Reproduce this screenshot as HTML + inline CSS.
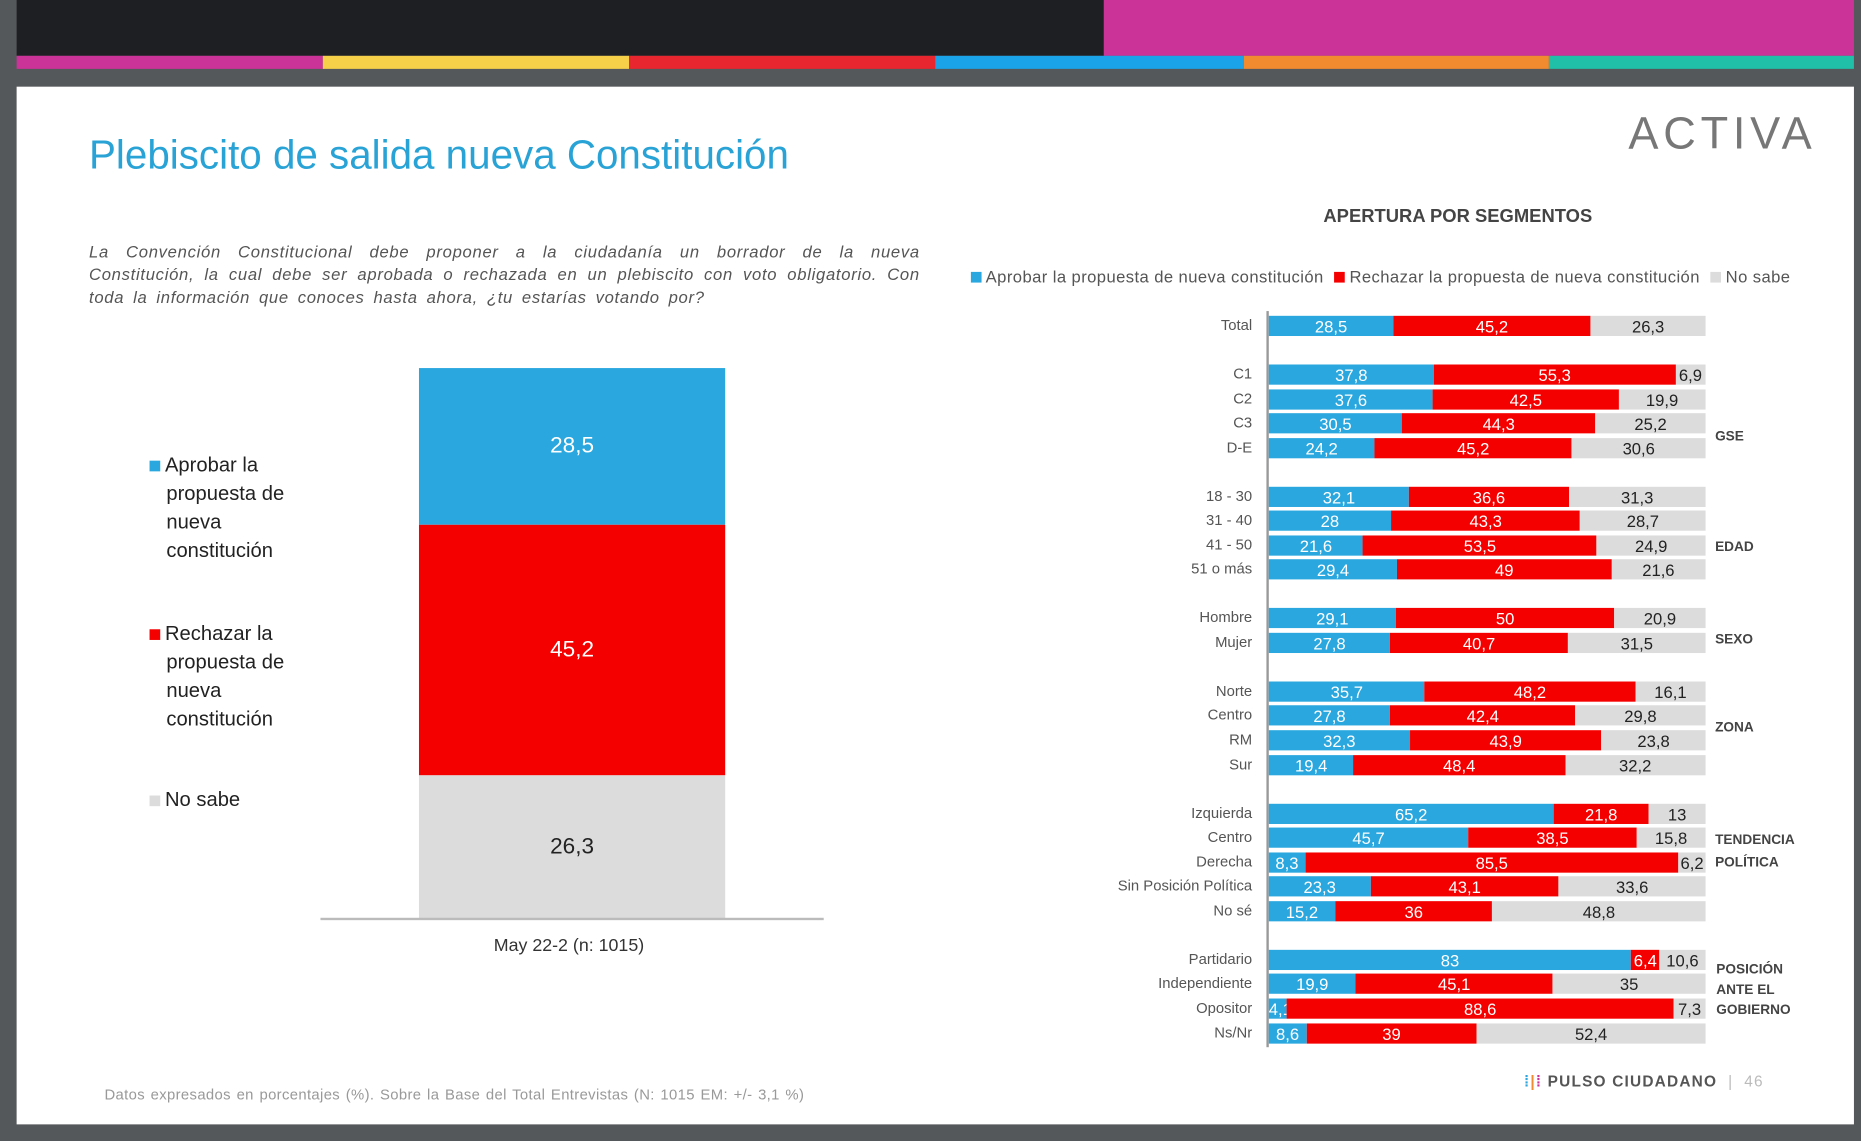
<!DOCTYPE html>
<html><head><meta charset="utf-8"><style>
html,body{margin:0;padding:0;width:1861px;height:1141px;overflow:hidden;background:#55585b}
#s{position:absolute;left:0;top:0;width:1568px;height:961px;transform:scale(1.1869,1.1873);transform-origin:0 0;font-family:"Liberation Sans",sans-serif}
.a{position:absolute}
.lbl{position:absolute;font-size:12.5px;color:#555;text-align:right;width:200px}
.bar{position:absolute;height:17px;font-size:14px;line-height:18px;text-align:center}
</style></head><body><div id="s">
<div class="a" style="left:0;top:0;width:1568px;height:961px;background:#55585b"></div>
<div class="a" style="left:14px;top:0;width:916px;height:47px;background:#1e1f22"></div>
<div class="a" style="left:930px;top:0;width:632px;height:47px;background:#cc3399"></div>
<div class="a" style="left:14px;top:47px;width:258px;height:11px;background:#cc3399"></div>
<div class="a" style="left:272px;top:47px;width:258px;height:11px;background:#f7d04a"></div>
<div class="a" style="left:530px;top:47px;width:258px;height:11px;background:#e8262f"></div>
<div class="a" style="left:788px;top:47px;width:260px;height:11px;background:#1aa3e8"></div>
<div class="a" style="left:1048px;top:47px;width:257px;height:11px;background:#f28a30"></div>
<div class="a" style="left:1305px;top:47px;width:257px;height:11px;background:#1fbfa8"></div>
<div class="a" style="left:14px;top:73px;width:1548px;height:874px;background:#fff"></div>
<div class="a" style="left:75px;top:112px;font-size:34px;color:#29a3d6">Plebiscito de salida nueva Constitución</div>
<div class="a" style="left:1372px;top:92px;font-size:38px;color:#777;letter-spacing:4px">ACTIVA</div>
<div class="a" style="left:75px;top:203px;width:700px;font-size:14px;font-style:italic;color:#555;text-align:justify;line-height:19px;letter-spacing:0.6px;word-spacing:3px">La Convención Constitucional debe proponer a la ciudadanía un borrador de la nueva Constitución, la cual debe ser aprobada o rechazada en un plebiscito con voto obligatorio. Con toda la información que conoces hasta ahora, ¿tu estarías votando por?</div>
<div class="a" style="left:353px;top:310px;width:258px;height:132px;background:#2aa7de;color:#fff;font-size:19px;text-align:center;line-height:132px">28,5</div>
<div class="a" style="left:353px;top:442px;width:258px;height:211px;background:#f50000;color:#fff;font-size:19px;text-align:center;line-height:211px">45,2</div>
<div class="a" style="left:353px;top:653px;width:258px;height:121px;background:#dcdcdc;color:#222;font-size:19px;text-align:center;line-height:121px">26,3</div>
<div class="a" style="left:270px;top:773px;width:424px;height:2px;background:#bbb"></div>
<div class="a" style="left:416px;top:788px;font-size:15px;color:#333">May 22-2 (n: 1015)</div>
<div class="a" style="left:126px;top:380px;font-size:17px;color:#222;line-height:24px"><span style="display:inline-block;width:9px;height:9px;background:#2aa7de;margin-right:4px"></span>Aprobar la<br>&nbsp;&nbsp;&nbsp;propuesta de<br>&nbsp;&nbsp;&nbsp;nueva<br>&nbsp;&nbsp;&nbsp;constitución</div>
<div class="a" style="left:126px;top:522px;font-size:17px;color:#222;line-height:24px"><span style="display:inline-block;width:9px;height:9px;background:#f50000;margin-right:4px"></span>Rechazar la<br>&nbsp;&nbsp;&nbsp;propuesta de<br>&nbsp;&nbsp;&nbsp;nueva<br>&nbsp;&nbsp;&nbsp;constitución</div>
<div class="a" style="left:126px;top:664px;font-size:17px;color:#222"><span style="display:inline-block;width:9px;height:9px;background:#dcdcdc;margin-right:4px"></span>No sabe</div>
<div class="a" style="left:88px;top:915px;font-size:12.5px;color:#999;letter-spacing:0.3px;word-spacing:1px">Datos expresados en porcentajes (%). Sobre la Base del Total Entrevistas (N: 1015  EM: +/- 3,1 %)</div>
<div class="a" style="left:1115px;top:174px;font-size:15.5px;font-weight:bold;color:#444">APERTURA POR SEGMENTOS</div>
<div class="a" style="left:818px;top:225px;font-size:14px;color:#555;white-space:nowrap;letter-spacing:0.35px"><span style="display:inline-block;width:9px;height:9px;background:#2aa7de"></span> Aprobar la propuesta de nueva constitución &nbsp;<span style="display:inline-block;width:9px;height:9px;background:#f50000"></span> Rechazar la propuesta de nueva constitución &nbsp;<span style="display:inline-block;width:9px;height:9px;background:#dcdcdc"></span> No sabe</div>
<div class="a" style="left:1067px;top:262px;width:2px;height:620px;background:#999"></div>
<div id="rows"></div>
<div class="a" style="left:1445px;top:362px;font-size:11.5px;font-weight:bold;color:#444">GSE</div>
<div class="a" style="left:1445px;top:455px;font-size:11.5px;font-weight:bold;color:#444">EDAD</div>
<div class="a" style="left:1445px;top:533px;font-size:11.5px;font-weight:bold;color:#444">SEXO</div>
<div class="a" style="left:1445px;top:607px;font-size:11.5px;font-weight:bold;color:#444">ZONA</div>
<div class="a" style="left:1445px;top:699px;font-size:11.5px;font-weight:bold;color:#444;line-height:19px">TENDENCIA<br>POLÍTICA</div>
<div class="a" style="left:1446px;top:809px;font-size:11.5px;font-weight:bold;color:#444;line-height:17px">POSICIÓN<br>ANTE EL<br>GOBIERNO</div>
<div class="a" style="left:1284px;top:903px;font-size:13px;font-weight:bold;color:#555;letter-spacing:1px"><span style="color:#2aa7de">⁞</span><span style="color:#f28a30">|</span><span style="color:#cc3399">⁞</span> PULSO CIUDADANO <span style="color:#bbb;font-weight:normal">&nbsp;| &nbsp;46</span></div>
</div>
<script>
var d=[["Total",28.5,45.2,26.3,274],["C1",37.8,55.3,6.9,315],["C2",37.6,42.5,19.9,336],["C3",30.5,44.3,25.2,356],["D-E",24.2,45.2,30.6,377],
["18 - 30",32.1,36.6,31.3,418],["31 - 40",28,43.3,28.7,438],["41 - 50",21.6,53.5,24.9,459],["51 o más",29.4,49,21.6,479],
["Hombre",29.1,50,20.9,520],["Mujer",27.8,40.7,31.5,541],["Norte",35.7,48.2,16.1,582],["Centro",27.8,42.4,29.8,602],["RM",32.3,43.9,23.8,623],["Sur",19.4,48.4,32.2,644],
["Izquierda",65.2,21.8,13,685],["Centro",45.7,38.5,15.8,705],["Derecha",8.3,85.5,6.2,726],["Sin Posición Política",23.3,43.1,33.6,746],["No sé",15.2,36,48.8,767],
["Partidario",83,6.4,10.6,808],["Independiente",19.9,45.1,35,828],["Opositor",4.1,88.6,7.3,849],["Ns/Nr",8.6,39,52.4,870]];
var W=368,X=1069,h="";
function f(v){return String(v).replace(".",",")}
d.forEach(function(r){var y=r[4]-8,a=r[1]*W/100,b=r[2]*W/100,c=W-a-b;
h+='<div class="lbl" style="left:855px;top:'+(y+1)+'px">'+r[0]+'</div>';
h+='<div class="bar" style="left:'+X+'px;top:'+y+'px;width:'+a+'px;background:#2aa7de;color:#fff">'+f(r[1])+'</div>';
h+='<div class="bar" style="left:'+(X+a)+'px;top:'+y+'px;width:'+b+'px;background:#f50000;color:#fff">'+f(r[2])+'</div>';
h+='<div class="bar" style="left:'+(X+a+b)+'px;top:'+y+'px;width:'+c+'px;background:#dcdcdc;color:#222;overflow:visible;white-space:nowrap">'+f(r[3])+'</div>';});
document.getElementById("rows").innerHTML=h;
</script>
</body></html>
